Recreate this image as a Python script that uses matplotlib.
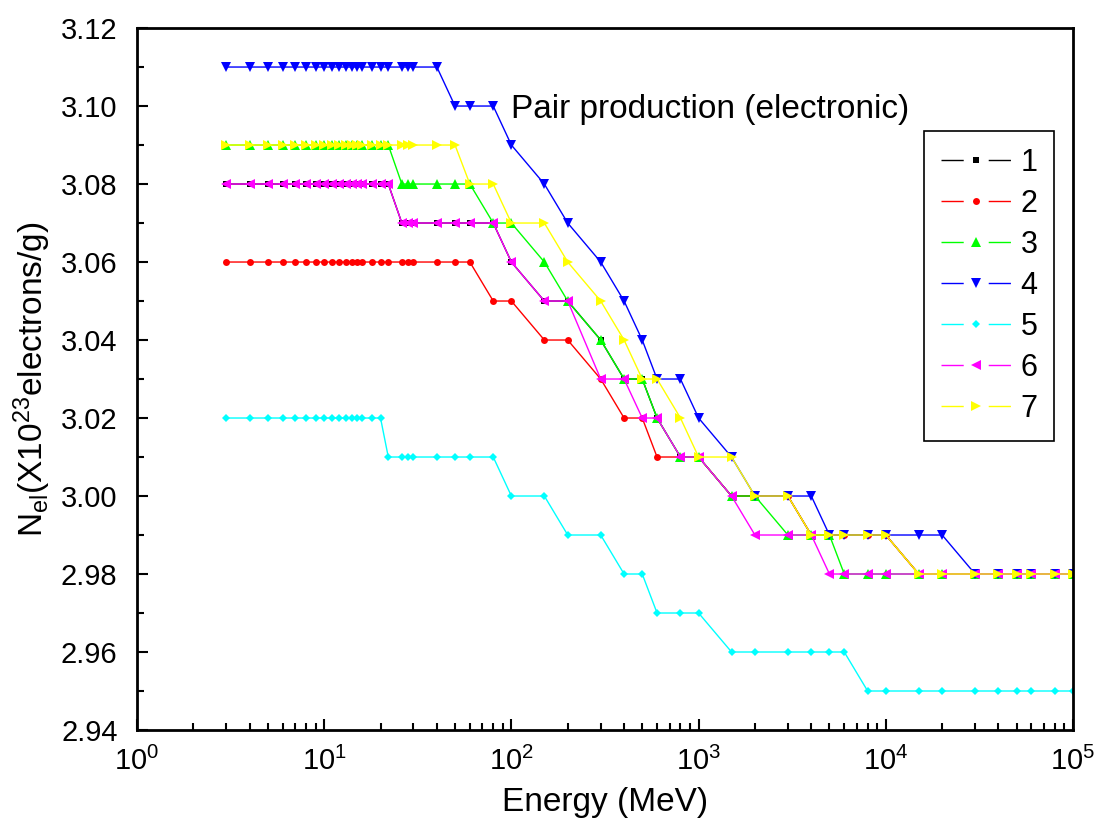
import matplotlib
matplotlib.use("Agg")
import matplotlib.pyplot as plt
from matplotlib.lines import Line2D
from matplotlib.ticker import MultipleLocator, FormatStrFormatter, LogLocator

energy = [3, 4, 5, 6, 7, 8, 9, 10, 11, 12, 13, 14, 15, 16, 18, 20, 22, 26, 28, 30,
          40, 50, 60, 80, 100, 150, 200, 300, 400, 500, 600, 800,
          1000, 1500, 2000, 3000, 4000, 5000, 6000, 8000,
          10000, 15000, 20000, 30000, 40000, 50000, 60000, 80000, 100000]

s1 = [3.08] * 17 + [3.07] * 7 + [3.06] + [3.05] * 2 + [3.04] + [3.03] * 2 + [3.02] \
    + [3.01] * 2 + [3.00] * 3 + [2.99] * 5 + [2.98] * 8
s2 = [3.06] * 23 + [3.05] * 2 + [3.04] * 2 + [3.03] + [3.02] * 2 + [3.01] * 3 \
    + [3.00] * 3 + [2.99] * 5 + [2.98] * 8
s3 = [3.09] * 17 + [3.08] * 6 + [3.07] * 2 + [3.06] + [3.05] + [3.04] + [3.03] * 2 \
    + [3.02] + [3.01] * 2 + [3.00] * 2 + [2.99] * 3 + [2.98] * 11
s4 = [3.11] * 21 + [3.10] * 3 + [3.09] + [3.08] + [3.07] + [3.06] + [3.05] + [3.04] \
    + [3.03] * 2 + [3.02] + [3.01] + [3.00] * 3 + [2.99] * 6 + [2.98] * 6
s5 = [3.02] * 16 + [3.01] * 8 + [3.00] * 2 + [2.99] * 2 + [2.98] * 2 + [2.97] * 3 \
    + [2.96] * 6 + [2.95] * 10
s6 = [3.08] * 17 + [3.07] * 7 + [3.06] + [3.05] * 2 + [3.03] * 2 + [3.02] * 2 \
    + [3.01] * 2 + [3.00] + [2.99] * 3 + [2.98] * 12
s7 = [3.09] * 22 + [3.08] * 2 + [3.07] * 2 + [3.06] + [3.05] + [3.04] + [3.03] * 2 \
    + [3.02] + [3.01] * 2 + [3.00] * 2 + [2.99] * 5 + [2.98] * 8

series = [s1, s2, s3, s4, s5, s6, s7]
labels = ["1", "2", "3", "4", "5", "6", "7"]
colors = ["#000000", "#FF0000", "#00FF00", "#0000FF", "#00FFFF", "#FF00FF", "#FFFF00"]
markers = ["s", "o", "^", "v", "D", "<", ">"]
msizes = [4.5, 5, 6.5, 6.5, 4.5, 6.5, 6.5]

plt.rcParams["font.family"] = ["Liberation Sans", "DejaVu Sans"]
plt.rcParams["mathtext.default"] = "regular"
plt.rcParams["lines.scale_dashes"] = False

fig = plt.figure(figsize=(10.94, 8.32), dpi=100)
ax = fig.add_axes([0.1252, 0.1226, 0.8556, 0.8437])

for ys, c, m, ms in zip(series, colors, markers, msizes):
    ax.plot(energy, ys, color=c, marker=m, markersize=ms, linewidth=1.0,
            markeredgewidth=0)

ax.set_xscale("log")
ax.set_xlim(1, 1e5)
ax.set_ylim(2.94, 3.12)
ax.yaxis.set_major_locator(MultipleLocator(0.02))
ax.yaxis.set_minor_locator(MultipleLocator(0.01))
ax.yaxis.set_major_formatter(FormatStrFormatter("%.2f"))
ax.xaxis.set_major_locator(LogLocator(base=10, numticks=10))
ax.xaxis.set_minor_locator(LogLocator(base=10, subs=range(2, 10), numticks=20))

ax.tick_params(which="both", direction="in", top=False, right=False,
               labelsize=21, width=1.5)
ax.tick_params(which="major", length=8)
ax.tick_params(which="minor", length=5)
ax.tick_params(axis="x", which="major", pad=12)
ax.tick_params(axis="y", which="major", pad=14)
for sp in ax.spines.values():
    sp.set_linewidth(2)

ax.set_xlabel("Energy (MeV)", fontsize=24, labelpad=8)
ax.set_ylabel("$N_{el}(X10^{23}electrons/g)$", fontsize=24, labelpad=6)

ax.text(100, 3.099, "Pair production (electronic)", fontsize=24,
        ha="left", va="center")

handles = [Line2D([0], [0], color=c, marker=m, markersize=ms, linewidth=1.0,
                  markeredgewidth=0, dashes=(16, 18))
           for c, m, ms in zip(colors, markers, msizes)]
leg = ax.legend(handles, labels, loc="upper left", bbox_to_anchor=(0.841, 0.853),
                bbox_transform=ax.transAxes, borderaxespad=0, fontsize=22,
                numpoints=1, handlelength=2.3, handletextpad=0.3,
                labelspacing=0.36, borderpad=0.55, fancybox=False,
                framealpha=1, edgecolor="black")
leg.get_frame().set_linewidth(1.2)

fig.savefig("out.png", dpi=100)
